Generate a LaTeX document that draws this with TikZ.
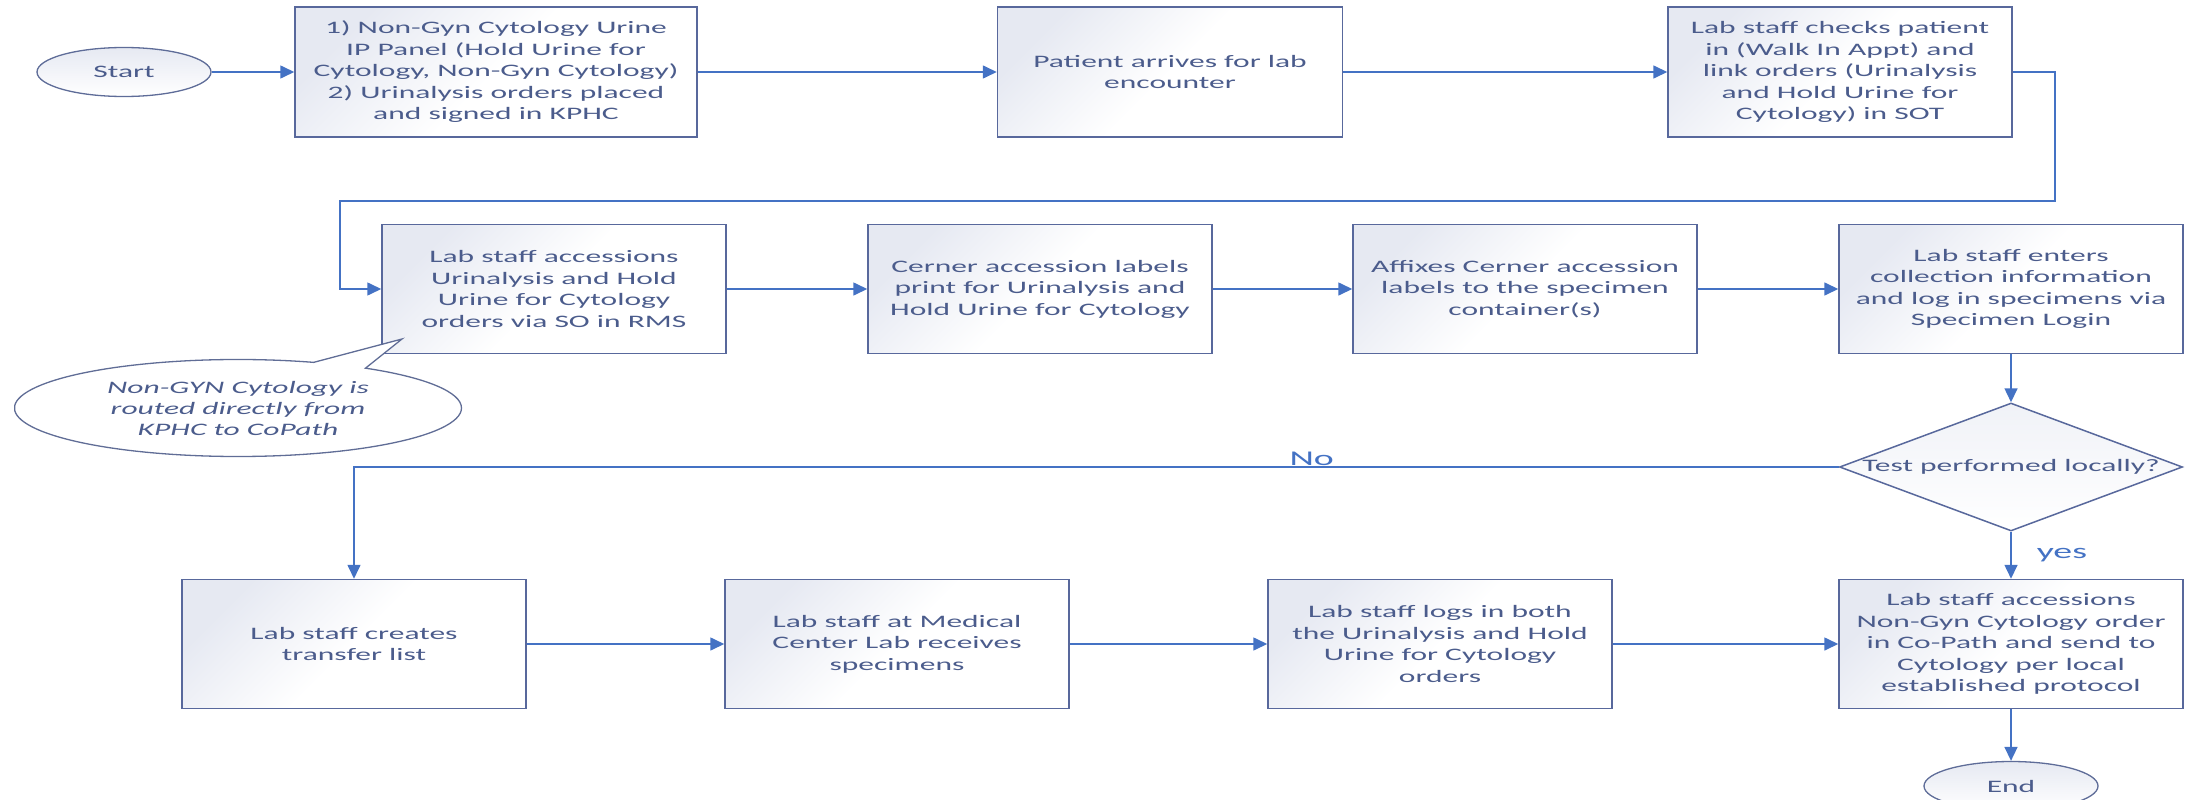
\documentclass[tikz,border=0pt]{standalone}
\usepackage{fontspec}
\setmainfont[FakeStretch=1.8]{Carlito}
\usetikzlibrary{shapes.geometric, shapes.callouts, arrows.meta}

\definecolor{txtblue}{RGB}{75,92,140}
\definecolor{lineblue}{RGB}{68,114,196}
\definecolor{edgeblue}{RGB}{88,104,156}
\definecolor{shadeblue}{RGB}{230,233,242}

\begin{document}
\begin{tikzpicture}[
    x=1pt, y=-1pt,
    font=\fontsize{17.5}{21.5}\selectfont,
    stepbox/.style={draw=edgeblue, line width=1.5pt, top color=shadeblue, bottom color=white, middle color=white, shading angle=45, minimum width=344pt, minimum height=129pt, inner sep=0pt, align=center, text=txtblue},
    terminal/.style={ellipse, draw=edgeblue!85!gray, line width=1.3pt, top color=shadeblue, bottom color=white, minimum width=174pt, minimum height=49pt, inner sep=0pt, text=txtblue},
    decision/.style={diamond, draw=edgeblue, line width=1.5pt, top color=shadeblue!60, bottom color=white, minimum width=343pt, minimum height=128pt, inner sep=0pt, text=txtblue},
    note/.style={ellipse callout, draw=edgeblue!80!gray, line width=1.3pt, fill=white, minimum width=447pt, minimum height=97pt, inner sep=0pt, align=center, text=txtblue, font=\fontsize{17.5}{21}\selectfont\itshape},
    arrow/.style={-{Triangle[length=14pt, width=13pt]}, line width=1.6pt, lineblue},
    flowlabel/.style={text=lineblue, font=\fontsize{21}{24}\selectfont, inner sep=1pt}
]
\useasboundingbox (0,0) rectangle (2190,800);

% First row
\node[terminal] (start) at (124,72) {Start};
\node[stepbox, minimum width=402pt, minimum height=130pt] (order) at (496,72) {1) Non-Gyn Cytology Urine\\IP Panel (Hold Urine for\\Cytology, Non-Gyn Cytology)\\2) Urinalysis orders placed\\and signed in KPHC};
\node[stepbox, minimum width=345pt, minimum height=130pt] (arrive) at (1170,72) {Patient arrives for lab\\encounter};
\node[stepbox, minimum height=130pt] (checkin) at (1840,72) {Lab staff checks patient\\in (Walk In Appt) and\\link orders (Urinalysis\\and Hold Urine for\\Cytology) in SOT};

% Second row
\node[stepbox] (accession) at (554,289) {Lab staff accessions\\Urinalysis and Hold\\Urine for Cytology\\orders via SO in RMS};
\node[stepbox] (print) at (1040,289) {Cerner accession labels\\print for Urinalysis and\\Hold Urine for Cytology};
\node[stepbox] (affix) at (1525,289) {Affixes Cerner accession\\labels to the specimen\\container(s)};
\node[stepbox] (login) at (2011,289) {Lab staff enters\\collection information\\and log in specimens via\\Specimen Login};

% Decision
\node[decision] (local) at (2011,467) {\makebox[0pt]{Test performed locally?}};

% Third row
\node[stepbox] (transfer) at (354,644) {Lab staff creates\\transfer list};
\node[stepbox] (receive) at (897,644) {Lab staff at Medical\\Center Lab receives\\specimens};
\node[stepbox] (logboth) at (1440,644) {Lab staff logs in both\\the Urinalysis and Hold\\Urine for Cytology\\orders};
\node[stepbox] (copath) at (2011,644) {Lab staff accessions\\Non-Gyn Cytology order\\in Co-Path and send to\\Cytology per local\\established protocol};
\node[terminal] (finish) at (2011,786) {End};

% Callout
\node[note, callout absolute pointer={(402,339)}] (routed) at (238,408) {Non-GYN Cytology is\\routed directly from\\KPHC to CoPath};

% Straight arrows along the rows
\foreach \a/\b in {start/order, order/arrive, arrive/checkin, accession/print, print/affix, affix/login, transfer/receive, receive/logboth, logboth/copath} {
    \draw[arrow] (\a.east) -- (\b.west);
}

% Return from first row to second row
\coordinate (loopR) at (2055,201);
\coordinate (loopL) at (340,201);
\draw[arrow] (checkin.east) -| (loopR) -- (loopL) |- (accession.west);

% Decision branches
\coordinate (noturn) at (354,467);
\draw[arrow] (login.south) -- (local.north);
\draw[arrow] (local.west) -- node[flowlabel, above, pos=0.355] {No} (noturn) -- (transfer.north);
\draw[arrow] (local.south) -- node[flowlabel, right=24pt] {yes} (copath.north);
\draw[arrow] (copath.south) -- (finish.north);

\end{tikzpicture}
\end{document}
